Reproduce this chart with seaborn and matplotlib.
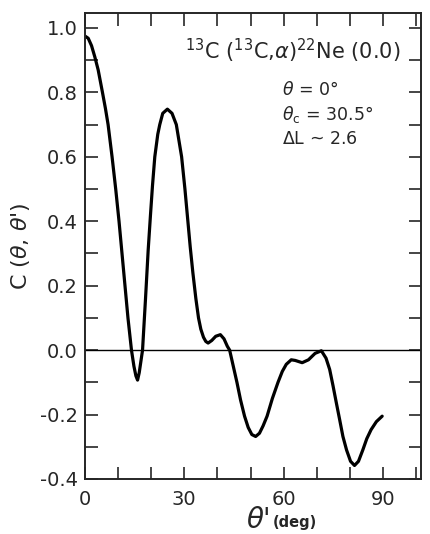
import numpy as np
import pandas as pd
import matplotlib
matplotlib.use("Agg")
import matplotlib.pyplot as plt
import seaborn as sns

# curve: theta' (deg) and C(theta, theta')
theta_p = [0.0, 1.0, 2.0, 3.0, 4.0, 5.3, 6.2, 7.0, 8.2, 9.3, 10.3, 11.2, 12.1, 13.0,
           14.06, 14.8, 15.4, 15.9, 16.4, 17.4, 18.3, 19.1, 19.8, 20.4, 21.1,
           22.0, 22.6, 23.5, 24.9, 26.3, 27.6, 29.2, 30.2, 31.0, 31.8, 32.6, 33.5,
           34.3, 35.0, 35.8, 36.5, 37.2, 38.3, 39.5, 40.9, 42.0, 43.0, 43.7, 44.8, 45.9,
           47.0, 48.2, 49.3, 50.4, 51.55, 52.7, 53.8, 55.0, 56.6, 58.3, 59.6, 60.8,
           62.3, 63.5, 65.6, 67.5, 69.5, 71.4, 72.8, 73.9, 74.9, 75.9, 76.9, 77.9,
           79.0, 80.2, 81.4, 82.6, 83.9, 85.1, 86.4, 88.0, 89.75]
corr = [0.975, 0.968, 0.945, 0.91, 0.87, 0.80, 0.75, 0.70, 0.60, 0.50, 0.40, 0.30,
        0.20, 0.10, 0.0, -0.05, -0.08, -0.093, -0.07, 0.0, 0.16, 0.31, 0.42,
        0.51, 0.60, 0.67, 0.70, 0.735, 0.748, 0.735, 0.70, 0.60, 0.50, 0.41, 0.32,
        0.24, 0.16, 0.10, 0.065, 0.04, 0.027, 0.022, 0.03, 0.043, 0.048, 0.035, 0.012, 0.0,
        -0.05, -0.10, -0.155, -0.205, -0.24, -0.262, -0.268, -0.258, -0.235, -0.205,
        -0.15, -0.10, -0.066, -0.044, -0.03, -0.032, -0.039, -0.03, -0.01, -0.002,
        -0.025, -0.06, -0.11, -0.163, -0.215, -0.268, -0.31, -0.345, -0.358, -0.345,
        -0.31, -0.275, -0.247, -0.222, -0.205]

x_ticks = [0, 30, 60, 90]
y_ticks = [-0.4, -0.2, 0.0, 0.2, 0.4, 0.6, 0.8, 1.0]
y_labels = ["-0.4", "-0.2", "0.0", "0.2", "0.4", "0.6", "0.8", "1.0"]

title_txt = r"$^{13}$C ($^{13}$C,$\alpha$)$^{22}$Ne (0.0)"
info_lines = [r"$\theta$ = 0°", r"$\theta_{\rm c}$ = 30.5°", r"$\Delta$L ~ 2.6"]

sns.set_style("ticks")
plt.rcParams["font.family"] = ["DejaVu Sans"]
plt.rcParams["mathtext.fontset"] = "dejavusans"

df = pd.DataFrame({"theta_p": theta_p, "C": corr})

fig = plt.figure(figsize=(4.31, 5.34), dpi=100)
ax = fig.add_axes([0.197, 0.103, 0.78, 0.873])

sns.lineplot(data=df, x="theta_p", y="C", sort=False, color="black", lw=2.3, ax=ax)
ax.axhline(0, color="black", lw=1.0)

ax.set_xlim(0, 101.5)
ax.set_ylim(-0.4, 1.047)

ax.set_xticks(x_ticks)
ax.set_xticks(np.arange(0, 101, 10), minor=True)
ax.set_yticks(y_ticks)
ax.set_yticklabels(y_labels)
ax.set_yticks(np.arange(-0.4, 1.01, 0.1), minor=True)

ax.tick_params(which="both", direction="in", top=True, right=True,
               length=9, width=1.2, labelsize=14, pad=5)
ax.tick_params(axis="x", which="both", pad=8)
for s in ax.spines.values():
    s.set_linewidth(1.4)

ax.set_xlabel("")
ax.set_ylabel(r"C ($\theta$, $\theta$')", fontsize=16, labelpad=6)

fig.text(0.625, 0.0, r"$\theta$'", fontsize=20, ha="right", va="bottom")
fig.text(0.632, 0.008, "(deg)", fontsize=10.5, ha="left", va="bottom",
         fontweight="bold")

ax.text(30.1, 0.93, title_txt, fontsize=15, ha="left", va="center")
for i, line in enumerate(info_lines):
    ax.text(59.5, 0.806 - i * 0.075, line, fontsize=12.5, ha="left", va="center")

fig.savefig("out.png", dpi=100)
